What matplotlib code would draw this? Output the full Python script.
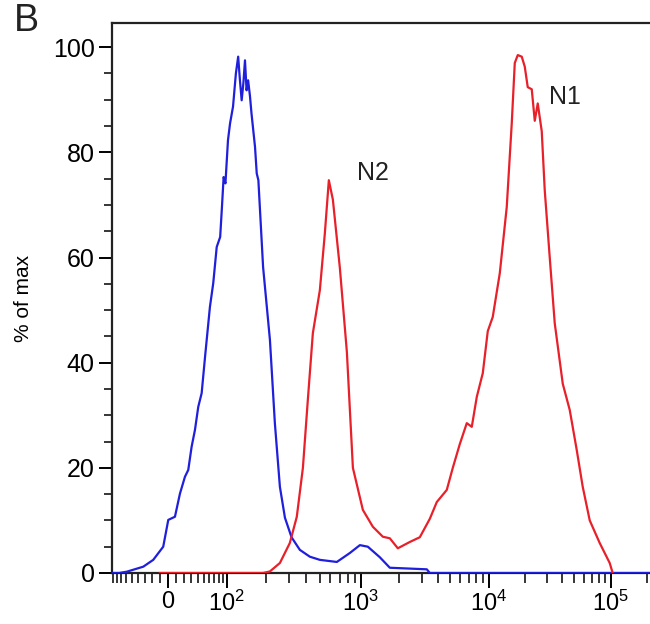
import numpy as np
import matplotlib
matplotlib.use("Agg")
import matplotlib.pyplot as plt
from matplotlib.ticker import FixedLocator, MultipleLocator, NullFormatter

plt.rcParams["font.family"] = ["Liberation Sans", "DejaVu Sans"]
plt.rcParams["mathtext.fontset"] = "custom"
plt.rcParams["mathtext.rm"] = "Liberation Sans"
plt.rcParams["mathtext.it"] = "Liberation Sans:italic"

# fluorescence intensity (biexponential axis) vs % of max
BLUE_X = [-92, -75, -59.3, -32.1, -18.4, -5.8, 0.4, 8.6, 14.9, 21.4, 25.9, 30.6,
          35.5, 40.6, 46.1, 51.9, 60.9, 67.5, 74.9, 82.8, 87.1, 91.3, 96.0, 102,
          106, 112, 118, 123, 127, 131, 135, 139, 143, 147, 152, 156, 166, 171,
          176, 191, 215, 234, 255, 278, 311, 358, 424, 502, 668, 831, 984, 1134,
          1407, 1685, 3280, 3460, 2.1e5]
BLUE_Y = [0, 0, 0.25, 1.2, 2.5, 5.0, 10.1, 10.7, 15.1, 18.3, 19.6, 24,
          27.2, 31.6, 34.2, 41.1, 50.6, 55.1, 62, 63.9, 69.6, 75.3, 74.1, 82.3,
          85.5, 88.7, 95, 98.2, 93.7, 89.9, 93.1, 97.5, 91.8, 93.7, 90.6, 87.4,
          81, 76, 74.7, 58.2, 44.3, 28.5, 16.4, 10.5, 6.8, 4.4, 3.1, 2.5, 2.1,
          3.8, 5.3, 5.0, 3.0, 1.0, 0.7, 0, 0]

RED_X = [-10, 191, 215, 255, 302, 340, 377, 410, 446, 502, 546, 584, 625, 703,
         791, 875, 1037, 1241, 1486, 1685, 1946, 2414, 2891, 3460, 3925, 4697,
         5234, 5934, 6732, 7366, 8060, 8977, 9822, 10780, 12310, 14040, 15430,
         16340, 17290, 18640, 19730, 20870, 22510, 23830, 25210, 27190, 28770,
         31620, 34750, 40430, 46130, 52640, 58950, 67290, 81250, 98130, 103800]
RED_Y = [0, 0, 0.3, 1.9, 5.7, 10.7, 20, 33, 45.6, 53.8, 64.6, 74.7, 71, 58,
         42, 20, 12, 8.8, 6.9, 6.6, 4.7, 5.9, 6.8, 10.3, 13.5, 15.8,
         20, 24.5, 28.5, 27.8, 33.5, 38, 46, 48.7, 57, 69.6, 85.5,
         97, 98.5, 98.2, 96.3, 92.4, 92, 86, 89.3, 84, 72.8,
         60, 47.5, 36, 31, 23.4, 16.4, 10, 5.7, 1.9, 0]

X_MAJOR = [0, 1e2, 1e3, 1e4, 1e5]
X_LABELS = ["0", r"$10^2$", r"$10^3$", r"$10^4$", r"$10^5$"]
X_MINOR = ([-k * 10 for k in range(1, 10)] + [k * 10 for k in range(1, 10)]
           + [k * 100 for k in range(2, 10)] + [k * 1000 for k in range(2, 10)]
           + [k * 10000 for k in range(2, 10)] + [2e5])

# biexponential-like display: asinh, piecewise matched to the decade spacing
C = 50.0
KNOT_VALS = np.array([-1e5, -1e3, 0, 1e2, 1e3, 1e4, 1e5, 1e7])
KNOT_POS = np.array([-171.0, 17.2, 168, 227, 361, 489, 611, 855])
KNOT_A = np.arcsinh(KNOT_VALS / C)


def biex_forward(x):
    return np.interp(np.arcsinh(np.asarray(x, dtype=float) / C), KNOT_A, KNOT_POS)


def biex_inverse(p):
    return C * np.sinh(np.interp(np.asarray(p, dtype=float), KNOT_POS, KNOT_A))


fig = plt.figure(figsize=(6.5, 6.24), dpi=100)
ax = fig.add_axes([112 / 650, 51 / 624, 1 - 112 / 650, 550 / 624])
ax.set_xscale("function", functions=(biex_forward, biex_inverse))

ax.plot(BLUE_X, BLUE_Y, color="#1f1fdc", lw=1.6, zorder=3)
ax.plot(RED_X, RED_Y, color="#e8202a", lw=1.6, zorder=4)

ax.set_xlim(-92, 2.1e5)
ax.set_ylim(0, 104.6)

ax.xaxis.set_major_locator(FixedLocator(X_MAJOR))
ax.set_xticklabels(X_LABELS)
ax.xaxis.set_minor_locator(FixedLocator(X_MINOR))
ax.xaxis.set_minor_formatter(NullFormatter())
ax.yaxis.set_major_locator(MultipleLocator(20))
ax.yaxis.set_minor_locator(MultipleLocator(5))

ax.tick_params(axis="x", which="major", length=11, width=1.4, labelsize=17, pad=2)
ax.tick_params(axis="x", which="minor", length=7, width=1.1)
ax.tick_params(axis="y", which="major", length=9.5, width=1.4, labelsize=18, pad=3)
ax.tick_params(axis="y", which="minor", length=6, width=1.1)

for side in ["left", "top", "bottom"]:
    ax.spines[side].set_linewidth(1.6)
    ax.spines[side].set_color("#222222")
ax.spines["right"].set_visible(False)

ax.set_ylabel("% of max", fontsize=15, labelpad=14)

ax.text(1241, 76, "N2", fontsize=18, ha="center", va="center", color="#222222")
ax.text(41980, 90.5, "N1", fontsize=18, ha="center", va="center", color="#222222")

fig.text(26 / 650, 1 - 21 / 624, "B", fontsize=27, ha="center", va="center",
         color="#222222")

fig.savefig("out.png", dpi=100)
